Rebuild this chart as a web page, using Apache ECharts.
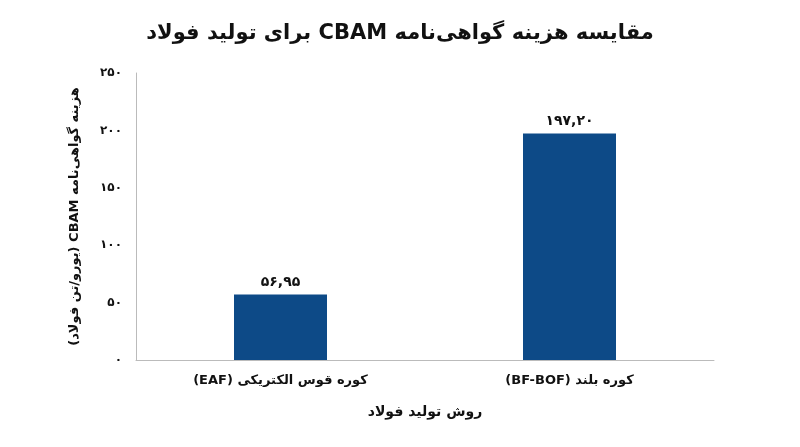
<!DOCTYPE html>
<html><head><meta charset="utf-8">
<script src="https://cdn.jsdelivr.net/npm/echarts@6/dist/echarts.min.js"></script>
<style>html,body{margin:0;padding:0;background:#fff}#c{width:800px;height:447px}</style>
</head><body><div id="c"></div>
<script>
const R = s => '\u202B' + s + '\u202C';
const categories = ['کوره قوس الکتریکی (EAF)', 'کوره بلند (BF-BOF)'];
const values = [56.95, 197.20];
const valueLabels = ['۵۶,۹۵', '۱۹۷,۲۰'];
const tickLabels = {0:'۰',50:'۵۰',100:'۱۰۰',150:'۱۵۰',200:'۲۰۰',250:'۲۵۰'};
const F = 'DejaVu Sans';
const chart = echarts.init(document.getElementById('c'));
chart.setOption({
  animation:false,
  textStyle:{fontFamily:F},
  title:{text:R('مقایسه هزینه گواهی‌نامه CBAM برای تولید فولاد'),left:'center',top:18,
    textStyle:{fontFamily:F,fontSize:21,fontWeight:'bold',color:'#111'}},
  grid:{left:136,right:86,top:73,bottom:87},
  xAxis:{type:'category',data:categories,
    axisLine:{lineStyle:{color:'#bbb'}},axisTick:{show:false},
    axisLabel:{fontFamily:F,fontSize:13,fontWeight:'bold',color:'#111',margin:14,formatter:v=>R(v)},
    name:R('روش تولید فولاد'),nameLocation:'middle',nameGap:45,
    nameTextStyle:{fontFamily:F,fontSize:14,fontWeight:'bold',color:'#111'}},
  yAxis:{type:'value',min:0,max:250,interval:50,
    axisLine:{show:true,lineStyle:{color:'#bbb'}},splitLine:{show:false},
    axisLabel:{fontFamily:F,fontSize:12,fontWeight:'bold',color:'#111',margin:14,
      formatter:v=>tickLabels[v]},
    name:R('هزینه گواهی‌نامه CBAM (یورو/تن فولاد)'),nameLocation:'middle',nameGap:55,
    nameTextStyle:{fontFamily:F,fontSize:13,fontWeight:'bold',color:'#111'}},
  series:[{type:'bar',data:values,barWidth:93,itemStyle:{color:'#0d4a87'},
    label:{show:true,position:'top',fontFamily:F,fontSize:14,fontWeight:'bold',color:'#111',
      formatter:p=>valueLabels[p.dataIndex]}}]
});
</script></body></html>
